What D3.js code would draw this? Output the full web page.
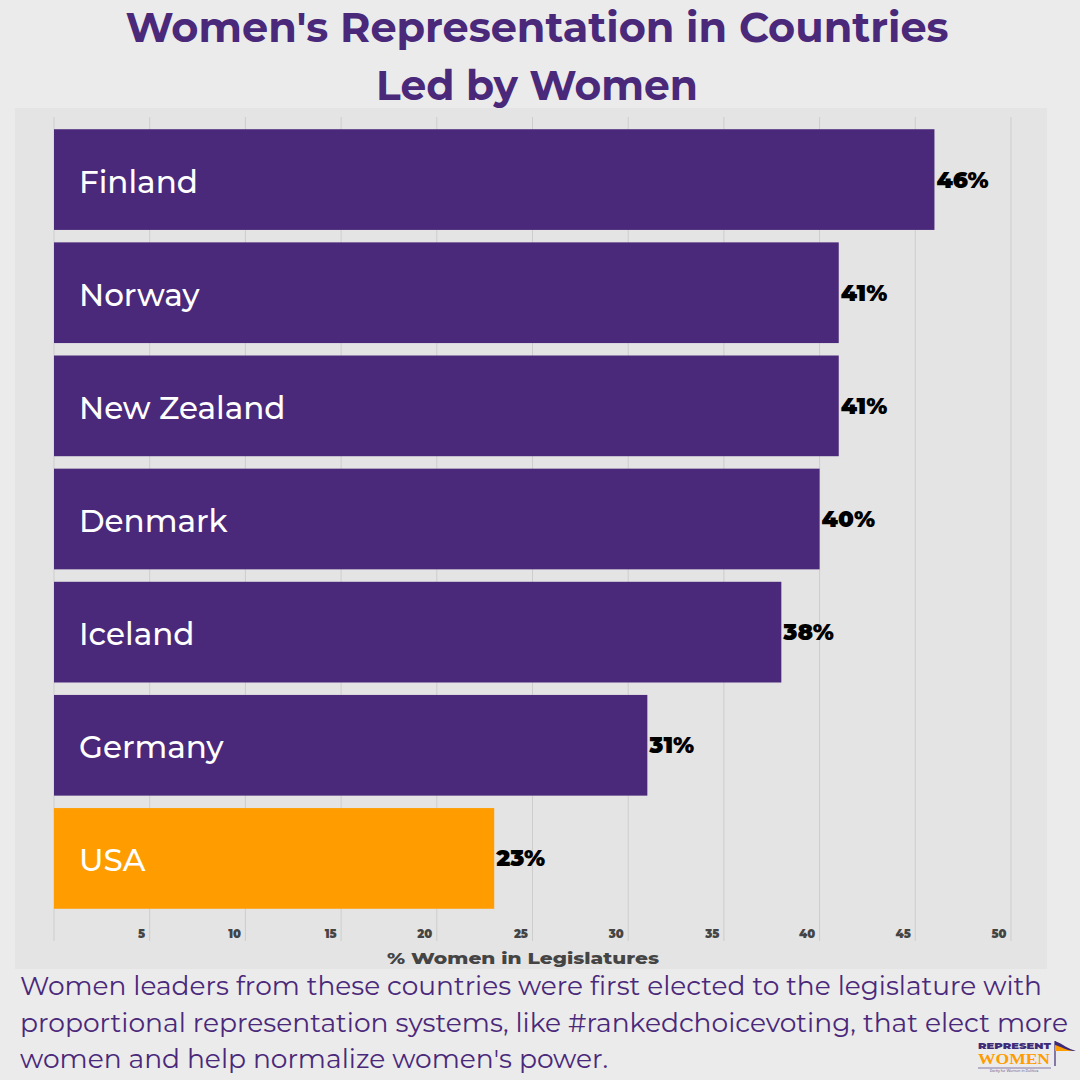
<!DOCTYPE html>
<html>
<head>
<meta charset="utf-8">
<script src="https://cdn.jsdelivr.net/npm/d3@7"></script>
<style>
  html, body { margin: 0; padding: 0; background: #ebebeb; }
  svg { display: block; }
</style>
</head>
<body>
<div id="chart"></div>
<script>
// chart data
const countries = ["Finland", "Norway", "New Zealand", "Denmark", "Iceland", "Germany", "USA"];
const womenPct = [46, 41, 41, 40, 38, 31, 23];
const tickValues = [5, 10, 15, 20, 25, 30, 35, 40, 45, 50];
const highlight = ["USA"];

const titleLines = ["Women's Representation in Countries", "Led by Women"];
const footerLines = [
  "Women leaders from these countries were first elected to the legislature with",
  "proportional representation systems, like #rankedchoicevoting, that elect more",
  "women and help normalize women's power."
];

const WIDTH = 1080, HEIGHT = 1080;
const PURPLE = "#4a287a";
const ORANGE = "#ff9c00";
const FONT = "Montserrat, 'Noto Sans', 'Open Sans', sans-serif";

const svg = d3.select("#chart")
  .append("svg")
    .attr("width", WIDTH)
    .attr("height", HEIGHT);

svg.append("rect").attr("width", WIDTH).attr("height", HEIGHT).attr("fill", "#ebebeb");

// plot panel
svg.append("rect")
  .attr("x", 15).attr("y", 108)
  .attr("width", 1032).attr("height", 861)
  .attr("fill", "#e4e4e4");

const X = d3.scaleLinear().domain([0, 50]).range([54, 1011]);
const Y = d3.scaleBand()
  .domain(countries)
  .range([123, 915])
  .paddingInner(0.11)
  .paddingOuter(0.055);

// grid lines
svg.append("g")
  .selectAll("line")
  .data([0].concat(tickValues))
  .enter().append("line")
    .attr("x1", d => X(d)).attr("x2", d => X(d))
    .attr("y1", 117).attr("y2", 941)
    .attr("stroke", "#cdcdcd")
    .attr("stroke-width", 1);

// bottom axis, tick labels only
const xAxis = svg.append("g")
  .attr("transform", "translate(0,938)")
  .call(d3.axisBottom(X).tickValues(tickValues).tickSize(0).tickPadding(0));
xAxis.select(".domain").remove();
xAxis.selectAll("text")
  .attr("y", 0)
  .attr("dx", -5)
  .attr("text-anchor", "end")
  .attr("dy", 0)
  .attr("fill", "#444")
  .style("font-family", FONT)
  .style("font-size", "11.5px")
  .style("font-weight", 900);

svg.append("text")
  .attr("x", 523).attr("y", 964)
  .attr("text-anchor", "middle")
  .attr("fill", "#444")
  .style("font-family", FONT)
  .style("font-size", "17px")
  .style("font-weight", 800)
  .attr("textLength", 272)
  .attr("lengthAdjust", "spacingAndGlyphs")
  .text("% Women in Legislatures");

// bars
const data = countries.map((c, i) => ({ country: c, value: womenPct[i] }));

svg.selectAll(".bar")
  .data(data)
  .enter().append("rect")
    .attr("class", "bar")
    .attr("x", X(0))
    .attr("y", d => Y(d.country))
    .attr("width", d => X(d.value) - X(0))
    .attr("height", Y.bandwidth())
    .attr("fill", d => highlight.includes(d.country) ? ORANGE : PURPLE);

// country labels inside bars
svg.selectAll(".name")
  .data(data)
  .enter().append("text")
    .attr("class", "name")
    .attr("x", 79)
    .attr("y", d => Y(d.country) + Y.bandwidth() / 2 + 13)
    .attr("fill", "#fff")
    .style("font-family", FONT)
    .style("font-size", "31px")
    .style("font-weight", 500)
    .text(d => d.country);

// value labels
svg.selectAll(".val")
  .data(data)
  .enter().append("text")
    .attr("class", "val")
    .attr("x", d => X(d.value) + 2)
    .attr("y", d => Y(d.country) + Y.bandwidth() / 2 + 8)
    .attr("fill", "#000")
    .style("font-family", FONT)
    .style("font-size", "23px")
    .style("font-weight", 900)
    .text(d => d.value + "%");

// title
svg.selectAll(".title")
  .data(titleLines)
  .enter().append("text")
    .attr("class", "title")
    .attr("x", 537)
    .attr("y", (d, i) => 42 + i * 58)
    .attr("text-anchor", "middle")
    .attr("fill", PURPLE)
    .style("font-family", FONT)
    .style("font-size", "41px")
    .style("font-weight", 700)
    .attr("textLength", (d, i) => i === 0 ? 823 : 322)
    .attr("lengthAdjust", "spacingAndGlyphs")
    .text(d => d);

// footer
const footerLen = [1022, 1048, 588];
svg.selectAll(".foot")
  .data(footerLines)
  .enter().append("text")
    .attr("class", "foot")
    .attr("x", 20)
    .attr("y", (d, i) => 995 + i * 36.5)
    .attr("fill", PURPLE)
    .style("font-family", FONT)
    .style("font-size", "26px")
    .style("font-weight", 400)
    .attr("textLength", (d, i) => footerLen[i])
    .attr("lengthAdjust", "spacingAndGlyphs")
    .text(d => d);

// logo
const logo = svg.append("g").attr("transform", "translate(978,1041)");
logo.append("text")
  .attr("x", 0).attr("y", 7.5)
  .attr("fill", "#3f2a78")
  .style("font-family", FONT)
  .style("font-size", "9.5px")
  .style("font-weight", 900)
  .attr("textLength", 73)
  .attr("lengthAdjust", "spacingAndGlyphs")
  .text("REPRESENT");
logo.append("text")
  .attr("x", 0).attr("y", 23)
  .attr("fill", ORANGE)
  .style("font-family", "'Liberation Serif', serif")
  .style("font-size", "14px")
  .style("font-weight", 700)
  .attr("textLength", 72)
  .attr("lengthAdjust", "spacingAndGlyphs")
  .text("WOMEN");
logo.append("line")
  .attr("x1", 0).attr("x2", 73).attr("y1", 27).attr("y2", 27)
  .attr("stroke", "#3f2a78").attr("stroke-width", 0.6);
logo.append("text")
  .attr("x", 36).attr("y", 31)
  .attr("text-anchor", "middle")
  .attr("fill", "#3f2a78")
  .style("font-family", FONT)
  .style("font-size", "3.5px")
  .text("Parity for Women in Politics");
logo.append("line")
  .attr("x1", 77).attr("x2", 77).attr("y1", 0).attr("y2", 25)
  .attr("stroke", "#3f2a78").attr("stroke-width", 1.2);
logo.append("path")
  .attr("d", "M77,0 C85,3 90,8 98,10 L77,10 Z")
  .attr("fill", "#3f2a78");
logo.append("path")
  .attr("d", "M77,4 C84,6 88,9 95,10 L77,10 Z")
  .attr("fill", ORANGE);
</script>
</body>
</html>
